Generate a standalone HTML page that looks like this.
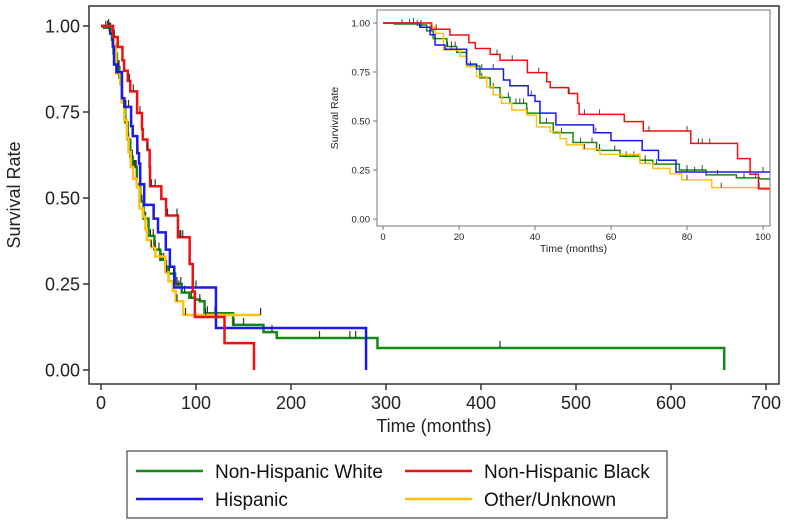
<!DOCTYPE html>
<html><head><meta charset="utf-8"><style>
html,body{margin:0;padding:0;background:#fff;}
svg{display:block;font-family:"Liberation Sans",Arial,sans-serif;}
</style></head><body>
<svg id="chart" width="793" height="524" viewBox="0 0 793 524" xmlns="http://www.w3.org/2000/svg">
<g id="main"></g>
<g id="inset"></g>
<g>
<rect x="127" y="451" width="540" height="67" fill="#fff" stroke="#444" stroke-width="1.2"/>
<g><line x1="136" y1="471" x2="203" y2="471" stroke="#138a13" stroke-width="2.5"/><text x="215" y="478" font-size="19" fill="#111">Non-Hispanic White</text></g>
<g><line x1="405" y1="471" x2="472" y2="471" stroke="#ee1111" stroke-width="2.5"/><text x="484" y="478" font-size="19" fill="#111">Non-Hispanic Black</text></g>
<g><line x1="136" y1="499" x2="203" y2="499" stroke="#1a1aee" stroke-width="2.5"/><text x="215" y="506" font-size="19" fill="#111">Hispanic</text></g>
<g><line x1="405" y1="499" x2="472" y2="499" stroke="#ffc20e" stroke-width="2.5"/><text x="484" y="506" font-size="19" fill="#111">Other/Unknown</text></g>
</g>
</svg>
<script>
// Step-curve data: times (months) and survival after each step
const whiteT=[0,3,9,11.5,13.2,16.8,19.4,22,25.5,28.2,30.8,33.4,37.8,41.3,44.8,50,56.2,62.4,67.6,71,78,85,93,99,104,109,139,171,185,291,656];
const whiteS=[1,0.995,0.99,0.96,0.92,0.88,0.85,0.78,0.72,0.67,0.62,0.59,0.54,0.49,0.44,0.39,0.35,0.32,0.30,0.28,0.25,0.225,0.21,0.205,0.2,0.165,0.131,0.11,0.093,0.064,0];
const blackT=[0,12.8,17.6,22.6,24.3,28.2,30.8,38,43.1,44,48.8,51.2,51.6,63.5,68.5,81,93.3,96.6,98.8,130,161];
const blackS=[1,0.968,0.939,0.90,0.87,0.84,0.81,0.747,0.70,0.67,0.64,0.59,0.534,0.497,0.449,0.386,0.308,0.228,0.154,0.078,0];
const hispT=[0,9.7,12.4,13.7,16.3,22,24.6,31.7,33.4,38.2,40,41.3,45.5,55.4,60,68.2,72.5,77.1,121,279];
const hispS=[1,0.978,0.94,0.888,0.866,0.79,0.765,0.709,0.68,0.63,0.60,0.54,0.48,0.44,0.40,0.35,0.30,0.24,0.122,0];
const otherT=[0,12.4,13.7,15.9,20.3,22,24.6,27.3,29,31.2,33.9,37.8,40.4,44,46.6,48.3,52.7,57.1,67.6,71,75.5,78.6,86.5,88];
const otherS=[1,0.98,0.947,0.862,0.83,0.777,0.726,0.675,0.633,0.59,0.556,0.53,0.47,0.446,0.41,0.378,0.357,0.33,0.284,0.258,0.23,0.2,0.16,0.16];
const whiteEnd=656, blackEnd=161, hispEnd=279, otherEnd=168;
const whiteCens=[5,7,9,10,17,18,19,23,26,29,33,35,36,37,38,43,47,52,55,57,61,64,66,69,72,80,84,88,95,98,104,112,120,140,150,180,230,262,268,420];
const blackCens=[14,30,34,41,49,53,57,70,80,83,84,86];
const hispCens=[8,10,26,29,39,56,80,82,100];
const otherCens=[18,53,57,69,80,89,99,110,168];
const yTicks=[0,0.25,0.5,0.75,1];
const yTickLabels=["0.00","0.25","0.50","0.75","1.00"];
const mainXTicks=[0,100,200,300,400,500,600,700];
const insetXTicks=[0,20,40,60,80,100];

const NS="http://www.w3.org/2000/svg";
function mk(tag,attrs,parent){const e=document.createElementNS(NS,tag);for(const k in attrs)e.setAttribute(k,attrs[k]);parent.appendChild(e);return e;}
function survAt(T,S,t){let s=1;for(let i=0;i<T.length;i++){if(T[i]<=t)s=S[i];}return s;}

const series=[
 {name:"nh-white",T:whiteT,S:whiteS,end:whiteEnd,c:"#138a13",cens:whiteCens},
 {name:"other",T:otherT,S:otherS,end:otherEnd,c:"#ffc20e",cens:otherCens},
 {name:"hispanic",T:hispT,S:hispS,end:hispEnd,c:"#1a1aee",cens:hispCens},
 {name:"nh-black",T:blackT,S:blackS,end:blackEnd,c:"#ee1111",cens:blackCens},
];

function panel(g,o){
 const X=t=>o.x0+(t-o.xmin)*(o.x1-o.x0)/(o.xmax-o.xmin);
 const Y=s=>o.y0+(1-s)*(o.y1-o.y0);
 if(o.bg){const r=mk("rect",{x:o.bg[0],y:o.bg[1],width:o.bg[2],height:o.bg[3],fill:"#fff",stroke:"none"},g);
 
 }
 const f=mk("rect",{x:o.fx0,y:o.fy0,width:o.fx1-o.fx0,height:o.fy1-o.fy0,fill:"none",stroke:o.fc,"stroke-width":o.fw},g);
 
 
 const cid="clip"+o.id;
 const cp=mk("clipPath",{id:cid},g);mk("rect",{x:o.fx0,y:o.fy0-4,width:o.fx1-o.fx0,height:o.fy1-o.fy0+4},cp);
 yTicks.forEach((v,i)=>{
  const l=mk("line",{x1:o.fx0-o.tl,x2:o.fx0,y1:Y(v),y2:Y(v),stroke:o.fc,"stroke-width":o.fw},g);
  
  
  const t=mk("text",{x:o.fx0-o.tl-3,y:Y(v)+o.fs*0.36,"font-size":o.fs,"text-anchor":"end",fill:"#222"},g);
  t.textContent=yTickLabels[i];
  
  
 });
 o.xt.forEach(v=>{
  const l=mk("line",{x1:X(v),x2:X(v),y1:o.fy1,y2:o.fy1+o.tl,stroke:o.fc,"stroke-width":o.fw},g);
  
  
  const t=mk("text",{x:X(v),y:o.fy1+o.tl+o.fs*1.05,"font-size":o.fs,"text-anchor":"middle",fill:"#222"},g);
  t.textContent=String(v);
  
  
 });
 const xt=mk("text",{x:(o.fx0+o.fx1)/2,y:o.xtY,"font-size":o.ts,"text-anchor":"middle",fill:"#222"},g);
 xt.textContent="Time (months)";
 
 
 const yt=mk("text",{x:0,y:0,"font-size":o.ts,"text-anchor":"middle",fill:"#222",transform:`translate(${o.ytX},${(o.fy0+o.fy1)/2}) rotate(-90)`},g);
 yt.textContent="Survival Rate";
 
 
 const cg=mk("g",{"clip-path":`url(#${cid})`},g);
 series.forEach(s=>{
  let d=`M${X(0)},${Y(1)}`;
  for(let i=1;i<s.T.length;i++){d+=`H${X(s.T[i])}V${Y(s.S[i])}`;}
  d+=`H${X(s.end)}`;
  const p=mk("path",{d:d,fill:"none",stroke:s.c,"stroke-width":o.lw},cg);
  
  
  s.cens.forEach(t=>{if(t>o.xmax)return;const yy=Y(survAt(s.T,s.S,t));
   const c=mk("line",{x1:X(t),x2:X(t),y1:yy-o.ck,y2:yy,stroke:"#333","stroke-width":o.cw},cg);
   
   });
 });
}
panel(document.getElementById("main"),{id:"m",x0:101,x1:766,xmin:0,xmax:700,y0:26,y1:370,fx0:89,fx1:779,fy0:6,fy1:384,fc:"#333",fw:1.5,tl:6,fs:18,ts:18,xt:mainXTicks,xtY:432,ytX:20,lw:2.5,ck:7,cw:1.2});
panel(document.getElementById("inset"),{id:"i",bg:[322,8,456,260],x0:383,x1:763,xmin:0,xmax:100,y0:23,y1:219,fx0:377,fx1:770,fy0:10,fy1:226,fc:"#777",fw:1,tl:4,fs:9.5,ts:10.5,xt:insetXTicks,xtY:252,ytX:338,lw:1.5,ck:5,cw:0.9});
</script>
</body></html>
